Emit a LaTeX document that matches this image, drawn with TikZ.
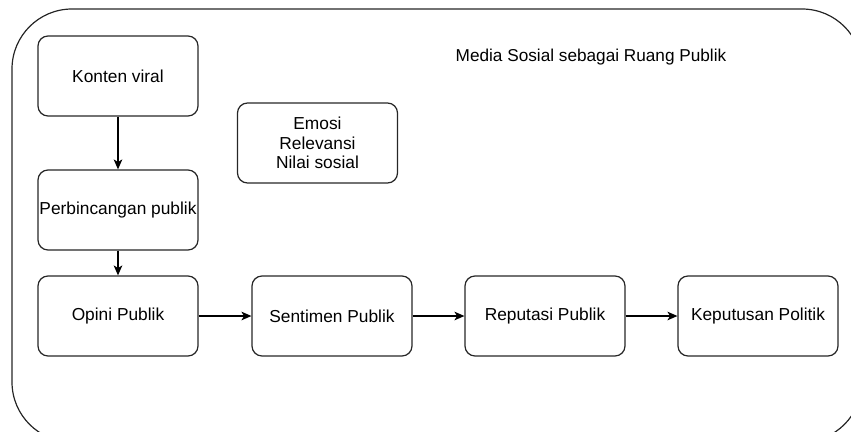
\documentclass[tikz,border=0pt]{standalone}
\usepackage{fontspec}
\setmainfont{Liberation Sans}
\usetikzlibrary{arrows.meta}

\begin{document}
\begin{tikzpicture}[x=0.75pt,y=0.75pt,yscale=-1,xscale=1,
  box/.style={draw=black!85, line width=0.9pt, rounded corners=7.5pt, minimum width=120pt, minimum height=60pt, inner sep=0pt, align=center, font=\fontsize{13}{14.4}\selectfont},
  flow/.style={draw=black, line width=0.9pt, -{Stealth[length=7.5pt,width=6.5pt,inset=2pt]}}]
  \useasboundingbox (0,0) rectangle (851,432);
  \clip (0,0) rectangle (851,432);

  %Shape: Rounded Rect (container)
  \draw [draw=black!85, line width=0.9pt, rounded corners=45pt] (12,9) rectangle (862,442);

  % Text Node
  \node [font=\fontsize{12.9}{14.4}\selectfont] (titel) at (591,57) {Media Sosial sebagai Ruang Publik};

  % Boxes
  \node [box] (konten) at (118,76) {Konten viral};
  \node [box] (bincang) at (118,210) {Perbincangan publik};
  \node [box] (opini) at (118,316) {Opini Publik};
  \node [box] (sentimen) at (332,316) {Sentimen Publik};
  \node [box] (reputasi) at (545,316) {Reputasi Publik};
  \node [box] (politik) at (758,316) {Keputusan Politik};
  \node [box] (faktor) at (317.5,143) {Emosi\\Relevansi\\Nilai sosial};

  % Arrows
  \draw [flow] (konten) -- (bincang);
  \draw [flow] (bincang) -- (opini);
  \draw [flow] (opini) -- (sentimen);
  \draw [flow] (sentimen) -- (reputasi);
  \draw [flow] (reputasi) -- (politik);
\end{tikzpicture}
\end{document}
